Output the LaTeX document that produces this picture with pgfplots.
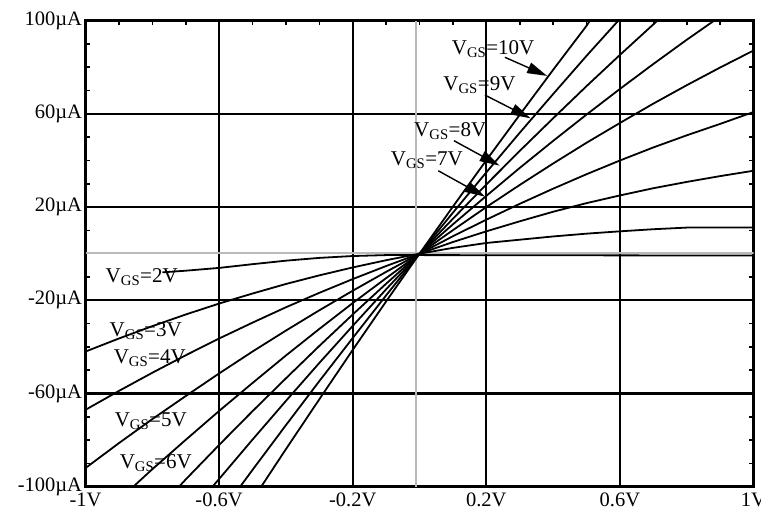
\documentclass[border=0pt]{standalone}
\usepackage{fontspec}
\setmainfont{Liberation Serif}
\usepackage{pgfplots}
\pgfplotsset{compat=1.18}
\usetikzlibrary{arrows.meta}

\newcommand{\vgs}[1]{V\textsubscript{GS}=#1V}
\tikzset{curve/.style={draw=black, line width=1.8pt, line join=round, mark=none}}

\begin{document}
\begin{tikzpicture}
\useasboundingbox (0,0) rectangle (761pt,516pt);
\begin{axis}[
 at={(85.5pt,29.3pt)}, anchor=south west,
 scale only axis, width=668pt, height=466pt,
 xmin=-1, xmax=1, ymin=-100, ymax=100,
 xtick={-1,-0.6,-0.2,0.2,0.6,1},
 xticklabels={-1V,-0.6V,-0.2V,0.2V,0.6V,1V},
 ytick={-100,-60,-20,20,60,100},
 yticklabels={-100µA,-60µA,-20µA,20µA,60µA,100µA},
 minor x tick num=3, minor y tick num=3,
 xtick pos=right, xticklabel pos=left,
 ytick pos=both,
 tick align=inside,
 major tick length=0pt, minor tick length=4.5pt,
 tick style={black, line width=1.6pt},
 grid=major,
 major grid style={black, line width=2.1pt},
 axis line style={line width=3.5pt},
 tick label style={font=\fontsize{20.5}{24}\selectfont},
 xticklabel style={yshift=-3pt},
]
% grey zero lines
\draw[gray!55, line width=2.1pt] (axis cs:-0.011,-100) -- (axis cs:-0.011,100);
\draw[gray!55, line width=2.1pt] (axis cs:-1,0.3) -- (axis cs:1,0.3);

% V_GS = 2 V
\addplot[curve] coordinates {(-0.77,-8.0) (-0.7,-7.3) (-0.6,-6.1) (-0.5,-4.5) (-0.4,-3.0)
 (-0.3,-1.8) (-0.2,-1.0) (-0.1,-0.6) (0,-0.6) (1,-0.8)};
% V_GS = 3 V
\addplot[curve] coordinates {(-1,-42.0) (-0.9,-36.4) (-0.8,-31.1) (-0.7,-26.1) (-0.6,-21.4)
 (-0.5,-17.1) (-0.4,-13.0) (-0.3,-9.3) (-0.2,-5.9) (-0.1,-2.8) (0,0)
 (0.1,2.5) (0.2,4.6) (0.3,6.0) (0.4,7.4) (0.5,8.6) (0.6,9.6) (0.7,10.5)
 (0.8,11.2) (0.9,11.2) (1,11.2)};
% V_GS = 4 V
\addplot[curve] coordinates {(-1,-67.0) (-0.9,-58.9) (-0.8,-51.1) (-0.7,-43.6) (-0.6,-36.4)
 (-0.5,-29.6) (-0.4,-23.0) (-0.3,-16.8) (-0.2,-10.9) (-0.1,-5.3) (0,0)
 (0.1,5.0) (0.2,9.6) (0.3,13.9) (0.4,18.0) (0.5,21.7) (0.6,25.0) (0.7,28.1)
 (0.8,30.8) (0.9,33.3) (1,35.6)};
% V_GS = 5 V
\addplot[curve] coordinates {(-1,-92.0) (-0.9,-81.3) (-0.8,-71.0) (-0.7,-61.1) (-0.6,-51.4)
 (-0.5,-42.0) (-0.4,-33.0) (-0.3,-24.3) (-0.2,-15.9) (-0.1,-7.8) (0,0)
 (0.1,7.5) (0.2,14.6) (0.3,21.4) (0.4,27.9) (0.5,34.1) (0.6,40.0) (0.7,45.6)
 (0.8,50.8) (0.9,55.7) (1,60.8)};
% V_GS = 6 V
\addplot[curve] coordinates {(-0.857,-100) (-0.8,-92.5) (-0.7,-79.9) (-0.6,-67.5) (-0.5,-55.5)
 (-0.4,-43.7) (-0.3,-32.3) (-0.2,-21.2) (-0.1,-10.5) (0,0)
 (0.1,10.1) (0.2,20.0) (0.3,29.5) (0.4,38.7) (0.5,47.6) (0.6,56.1) (0.7,64.4)
 (0.8,72.3) (0.9,79.9) (1,87.2)};
% V_GS = 7 V
\addplot[curve] coordinates {(-0.72,-100) (-0.7,-96.9) (-0.6,-82.1) (-0.5,-67.6) (-0.4,-53.5)
 (-0.3,-39.6) (-0.2,-26.1) (-0.1,-12.9) (0,0)
 (0.1,12.6) (0.2,24.8) (0.3,36.8) (0.4,48.4) (0.5,59.7) (0.6,70.7) (0.7,81.4)
 (0.8,91.8) (0.882,100)};
% V_GS = 8 V
\addplot[curve] coordinates {(-0.62,-100) (-0.6,-96.7) (-0.5,-79.8) (-0.4,-63.2) (-0.3,-46.9)
 (-0.2,-31.0) (-0.1,-15.3) (0,0)
 (0.1,15.0) (0.2,29.7) (0.3,44.1) (0.4,58.1) (0.5,71.9) (0.6,85.3) (0.7,98.4)
 (0.712,100)};
% V_GS = 9 V
\addplot[curve] coordinates {(-0.537,-100) (-0.5,-92.8) (-0.4,-73.6) (-0.3,-54.7) (-0.2,-36.2)
 (-0.1,-17.9) (0,0)
 (0.1,17.6) (0.2,34.9) (0.3,51.9) (0.4,68.5) (0.5,84.9) (0.595,100)};
% V_GS = 10 V
\addplot[curve] coordinates {(-0.474,-100) (-0.4,-83.9) (-0.3,-62.5) (-0.2,-41.3) (-0.1,-20.5)
 (0,0)
 (0.1,20.2) (0.2,40.1) (0.3,59.6) (0.4,78.9) (0.5,97.8) (0.51,100)};

% labels
\begin{scope}[every node/.style={anchor=base west, inner sep=0pt, font=\fontsize{21}{24}\selectfont}]
\node at (axis cs:0.0963,85.7) {\vgs{10}};
\node at (axis cs:0.0711,70.0) {\vgs{9}};
\node at (axis cs:-0.0164,50.2) {\vgs{8}};
\node at (axis cs:-0.0861,37.8) {\vgs{7}};
\node at (axis cs:-0.940,-12.45) {\vgs{2}};
\node at (axis cs:-0.928,-35.6) {\vgs{3}};
\node at (axis cs:-0.916,-47.0) {\vgs{4}};
\node at (axis cs:-0.913,-74.2) {\vgs{5}};
\node at (axis cs:-0.898,-92.1) {\vgs{6}};
\end{scope}

% arrows
\begin{scope}[line width=1.4pt, -{Triangle[length=20pt,width=11pt]}]
\draw (axis cs:0.2556,84.3) -- (axis cs:0.3821,76.3);
\draw (axis cs:0.1958,68.1) -- (axis cs:0.3324,58.1);
\draw (axis cs:0.1031,48.5) -- (axis cs:0.2398,37.8);
\draw (axis cs:0.0562,35.6) -- (axis cs:0.1958,24.5);
\end{scope}
\end{axis}
\end{tikzpicture}
\end{document}
